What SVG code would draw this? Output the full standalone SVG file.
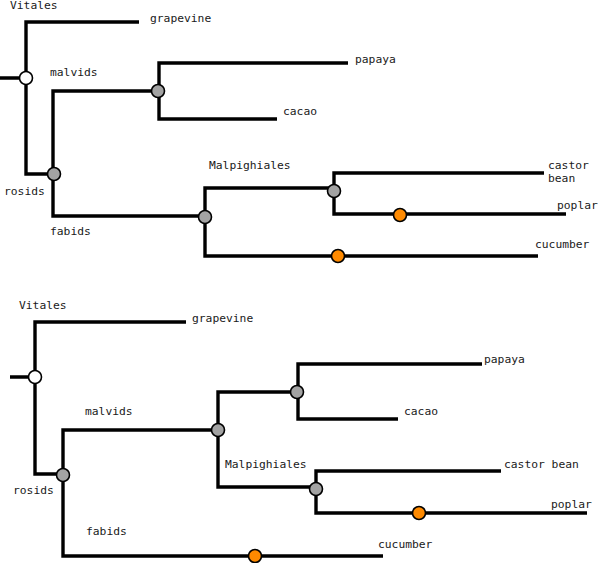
<svg xmlns="http://www.w3.org/2000/svg" width="600" height="563" viewBox="0 0 600 563">
<style>
.e{fill:none;stroke:#000;stroke-width:3.4;stroke-linejoin:miter;stroke-linecap:butt}
.n{stroke:#000;stroke-width:1.6}
.w{fill:#fff}.g{fill:#a3a3a3}.o{fill:#ff8a00}
text{font-family:"DejaVu Sans Mono","Liberation Mono",monospace;font-size:11.3px;fill:#1a1a1a}
</style>
<rect width="600" height="563" fill="#fff"/>
<g id="connectors">
<path class="e" d="M0 78H26M139 22H26V174H54M158 91H53V216H205M348 63H159V119H277M334 188H205V256H538M544 173H334V214H566"/>
<path class="e" d="M10 377H35M186 322H35V474H63M218 430H63V556H383M298 392H218V487H316M482 364H298V419H398M501 471H316V513H587"/>
</g>
<g id="top-root"><circle class="n w" cx="26" cy="78" r="6.5"/><text x="10" y="9">Vitales</text></g>
<g id="top-grapevine"><text x="150" y="22">grapevine</text></g>
<g id="top-rosids"><circle class="n g" cx="54" cy="174" r="6.5"/><text x="4" y="195">rosids</text></g>
<g id="top-malvids"><circle class="n g" cx="158" cy="91" r="6.5"/><text x="50" y="76">malvids</text></g>
<g id="top-papaya"><text x="355" y="63">papaya</text></g>
<g id="top-cacao"><text x="283" y="115">cacao</text></g>
<g id="top-fabids"><circle class="n g" cx="205" cy="217" r="6.5"/><text x="50" y="235">fabids</text></g>
<g id="top-malpighiales"><circle class="n g" cx="334" cy="191" r="6.5"/><text x="209" y="169">Malpighiales</text></g>
<g id="top-castor"><text x="548" y="169">castor</text><text x="548" y="182">bean</text></g>
<g id="top-poplar"><circle class="n o" cx="400" cy="215" r="6.5"/><text x="557" y="209">poplar</text></g>
<g id="top-cucumber"><circle class="n o" cx="338" cy="256" r="6.5"/><text x="535" y="248">cucumber</text></g>

<g id="bot-root"><circle class="n w" cx="35" cy="377" r="6.5"/><text x="19" y="309">Vitales</text></g>
<g id="bot-grapevine"><text x="192" y="322">grapevine</text></g>
<g id="bot-rosids"><circle class="n g" cx="63" cy="475" r="6.5"/><text x="13" y="494">rosids</text></g>
<g id="bot-malvids"><circle class="n g" cx="218" cy="430" r="6.5"/><text x="85" y="415">malvids</text></g>
<g id="bot-papaya-cacao"><circle class="n g" cx="297" cy="392" r="6.5"/></g>
<g id="bot-papaya"><text x="484" y="363">papaya</text></g>
<g id="bot-cacao"><text x="404" y="415">cacao</text></g>
<g id="bot-malpighiales"><circle class="n g" cx="316" cy="489" r="6.5"/><text x="225" y="468">Malpighiales</text></g>
<g id="bot-castor"><text x="504" y="468">castor bean</text></g>
<g id="bot-poplar"><circle class="n o" cx="419" cy="513" r="6.5"/><text x="551" y="508">poplar</text></g>
<g id="bot-fabids"><circle class="n o" cx="255" cy="556" r="6.5"/><text x="86" y="535">fabids</text></g>
<g id="bot-cucumber"><text x="378" y="548">cucumber</text></g>
</svg>
